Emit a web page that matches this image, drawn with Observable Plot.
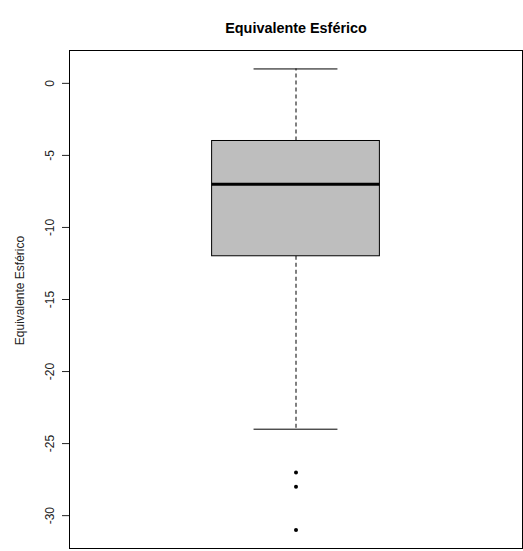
<!DOCTYPE html>
<html>
<head>
<meta charset="utf-8">
<script src="https://cdn.jsdelivr.net/npm/d3@7"></script>
<script src="https://cdn.jsdelivr.net/npm/@observablehq/plot@0.6"></script>
<style>
  html, body { margin: 0; padding: 0; background: #fff; }
  #chart svg { display: block; font-family: "Liberation Sans", Arial, sans-serif; }
</style>
</head>
<body>
<div id="chart"></div>
<script>
// Five-number summary of the spherical equivalent (dioptres)
const summaryNames = ["lowerWhisker", "q1", "median", "q3", "upperWhisker"];
const summaryValues = [-24, -12, -7, -4, 1];
// Points beyond the whiskers
const outliers = [-27, -28, -31];
// Y-axis tick values
const yTicks = [0, -5, -10, -15, -20, -25, -30];
const titleText = "Equivalente Esférico";
const yLabel = "Equivalente Esférico";

const s = Object.fromEntries(summaryNames.map((k, i) => [k, summaryValues[i]]));
const pos = 1;          // box position on the x axis
const half = 0.2;       // half-width of the box
const capHalf = 0.1;    // half-width of the whisker caps

const allVals = summaryValues.concat(outliers);
const lo = d3.min(allVals), hi = d3.max(allVals);
const pad = (hi - lo) * 0.04;

const box = [{x1: pos - half, x2: pos + half, y1: s.q1, y2: s.q3}];
const whiskers = [
  {x: pos, y1: s.q3, y2: s.upperWhisker},
  {x: pos, y1: s.q1, y2: s.lowerWhisker}
];
const caps = [
  {y: s.upperWhisker, x1: pos - capHalf, x2: pos + capHalf},
  {y: s.lowerWhisker, x1: pos - capHalf, x2: pos + capHalf}
];

const chart = Plot.plot({
  width: 523,
  height: 551,
  marginTop: 50,
  marginLeft: 69,
  marginRight: 1,
  marginBottom: 3,
  style: {fontSize: "12px", fontFamily: "Liberation Sans, Arial, sans-serif", color: "#000"},
  x: {domain: [0.46, 1.54], axis: null},
  y: {domain: [lo - pad, hi + pad], axis: null},
  marks: [
    Plot.ruleX(whiskers, {x: "x", y1: "y1", y2: "y2", stroke: "#000", strokeDasharray: "4,3", strokeWidth: 1}),
    Plot.ruleY(caps, {y: "y", x1: "x1", x2: "x2", stroke: "#000", strokeWidth: 1}),
    Plot.rect(box, {x1: "x1", x2: "x2", y1: "y1", y2: "y2", fill: "#bebebe", stroke: "#000", strokeWidth: 1}),
    Plot.ruleY([s.median], {x1: pos - half, x2: pos + half, stroke: "#000", strokeWidth: 3}),
    Plot.dot(outliers, {x: () => pos, y: d => d, r: 2, fill: "#000", stroke: null}),
    Plot.axisY({ticks: yTicks, tickSize: 7, tickPadding: 9, tickRotate: -90, tickFormat: d => String(d).replace("\u2212", "-"), label: null, fontSize: 12, color: "#222"}),
    Plot.text([yLabel], {frameAnchor: "left", textAnchor: "middle", dx: -49, dy: -9, rotate: -90, fontSize: 12, fill: "#222"}),
    Plot.text([titleText], {frameAnchor: "top", dy: -28, fontSize: 14.4, fontWeight: "bold", fill: "#000"}),
    Plot.frame({stroke: "#000", strokeWidth: 1})
  ]
});
document.getElementById("chart").append(chart);
</script>
</body>
</html>
